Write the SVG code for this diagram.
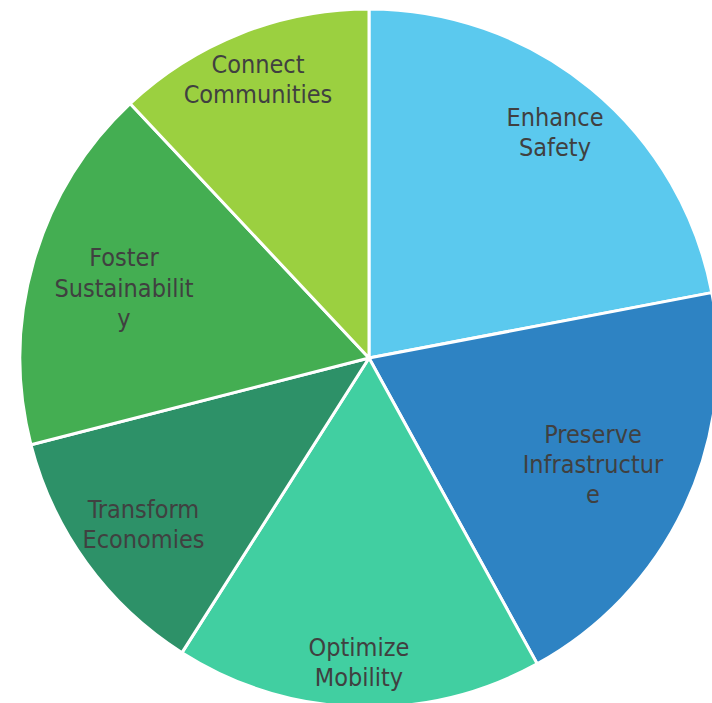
<svg xmlns="http://www.w3.org/2000/svg" width="712" height="703" viewBox="0 0 712 703">
<style>
.slice{stroke:#ffffff;stroke-width:3;stroke-linejoin:round}
.lbl{font-family:"DejaVu Sans Condensed","DejaVu Sans",sans-serif;font-stretch:condensed;font-size:25px;fill:#404040;text-anchor:middle}
</style>
<rect width="712" height="703" fill="#ffffff"/>
<g id="slice-enhance-safety">
<path class="slice" fill="#5BC9EE" d="M369,358 L369,9 A349,349 0 0 1 711.82,292.60 Z"/>
<text class="lbl"><tspan x="555" y="126">Enhance</tspan><tspan x="555" y="156">Safety</tspan></text>
</g>
<g id="slice-preserve-infrastructure">
<path class="slice" fill="#2E83C3" d="M369,358 L711.82,292.60 A349,349 0 0 1 537.13,663.83 Z"/>
<text class="lbl"><tspan x="593" y="443">Preserve</tspan><tspan x="593" y="473">Infrastructur</tspan><tspan x="593" y="503">e</tspan></text>
</g>
<g id="slice-optimize-mobility">
<path class="slice" fill="#41CFA1" d="M369,358 L537.13,663.83 A349,349 0 0 1 182.00,652.67 Z"/>
<text class="lbl"><tspan x="359" y="656">Optimize</tspan><tspan x="359" y="686">Mobility</tspan></text>
</g>
<g id="slice-transform-economies">
<path class="slice" fill="#2D9168" d="M369,358 L182.00,652.67 A349,349 0 0 1 30.97,444.79 Z"/>
<text class="lbl"><tspan x="143.5" y="518">Transform</tspan><tspan x="143.5" y="548">Economies</tspan></text>
</g>
<g id="slice-foster-sustainability">
<path class="slice" fill="#44AE52" d="M369,358 L30.97,444.79 A349,349 0 0 1 130.09,103.59 Z"/>
<text class="lbl"><tspan x="124" y="266">Foster</tspan><tspan x="124" y="297">Sustainabilit</tspan><tspan x="124" y="327">y</tspan></text>
</g>
<g id="slice-connect-communities">
<path class="slice" fill="#9BD040" d="M369,358 L130.09,103.59 A349,349 0 0 1 369,9 Z"/>
<text class="lbl"><tspan x="258" y="73">Connect</tspan><tspan x="258" y="103">Communities</tspan></text>
</g>
<g id="connectors"></g>
</svg>
